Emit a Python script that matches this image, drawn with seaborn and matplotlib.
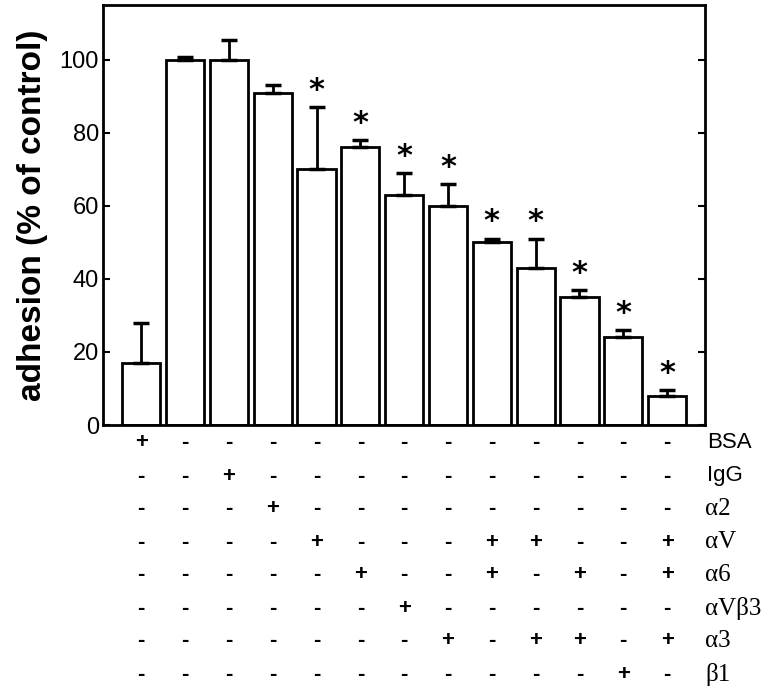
import numpy as np
import pandas as pd
import matplotlib
matplotlib.use("Agg")
import matplotlib.pyplot as plt
import matplotlib.transforms as mtransforms
import seaborn as sns

sns.set_style("white")
plt.rcParams["font.family"] = ["Liberation Sans", "DejaVu Sans"]
plt.rcParams["text.color"] = "black"
plt.rcParams["axes.labelcolor"] = "black"
plt.rcParams["ytick.color"] = "black"

adhesion = [17, 100, 100, 91, 70, 76, 63, 60, 50, 43, 35, 24, 8]
err_up = [11, 0.7, 5.5, 2, 17, 2, 6, 6, 1, 8, 2, 2, 1.5]
signif = [False, False, False, False, True, True, True, True, True, True, True, True, True]

row_labels = ["BSA", "IgG", "α2", "αV", "α6", "αVβ3", "α3", "β1"]
treatments = [
    "+------------",
    "--+----------",
    "---+---------",
    "----+---++--+",
    "-----+--+-+-+",
    "------+------",
    "-------+-++-+",
    "-----------+-",
]

df = pd.DataFrame({"cond": range(len(adhesion)), "adhesion": adhesion})

fig = plt.figure(figsize=(7.75, 6.9), dpi=100)
ax = fig.add_axes([0.133, 0.384, 0.777, 0.609])

sns.barplot(data=df, x="cond", y="adhesion", color="white", edgecolor="black",
            linewidth=2, width=0.87, ax=ax, native_scale=True)

x = np.arange(len(adhesion))
ax.errorbar(x, adhesion, yerr=[np.zeros(len(err_up)), err_up], fmt="none",
            ecolor="black", elinewidth=2, capsize=6, capthick=2.5)

for i, (v, e, s) in enumerate(zip(adhesion, err_up, signif)):
    if s:
        ax.text(i, v + e + 0.6, "*", ha="center", va="bottom",
                fontsize=22, fontweight="bold", family="DejaVu Sans")

ax.set_xlim(-0.87, 12.87)
ax.set_ylim(0, 115)
ax.set_yticks([0, 20, 40, 60, 80, 100])
ax.set_xticks([])
ax.set_xlabel("")
ax.set_ylabel("adhesion (% of control)", fontsize=24, fontweight="bold", labelpad=8)
ax.tick_params(axis="y", direction="in", length=5, width=1.5, labelsize=17,
               right=True, left=True, pad=3)
for sp in ax.spines.values():
    sp.set_linewidth(2)
    sp.set_color("black")

# treatment table below the axis
trans = mtransforms.blended_transform_factory(ax.transData, fig.transFigure)
row_y = [1 - (443 + 33 * k) / 690 for k in range(len(row_labels))]
for label, signs, yy in zip(row_labels, treatments, row_y):
    for i, c in enumerate(signs):
        ax.text(i, yy, c, transform=trans, ha="center", va="center",
                fontsize=16, fontweight="bold", clip_on=False)
    if label in ("BSA", "IgG"):
        fig.text(0.912, yy, label, ha="left", va="center", fontsize=16)
    else:
        fig.text(0.910, yy, label, ha="left", va="center", fontsize=18,
                 family=["Liberation Serif", "DejaVu Serif"])

fig.savefig("out.png", dpi=100)
